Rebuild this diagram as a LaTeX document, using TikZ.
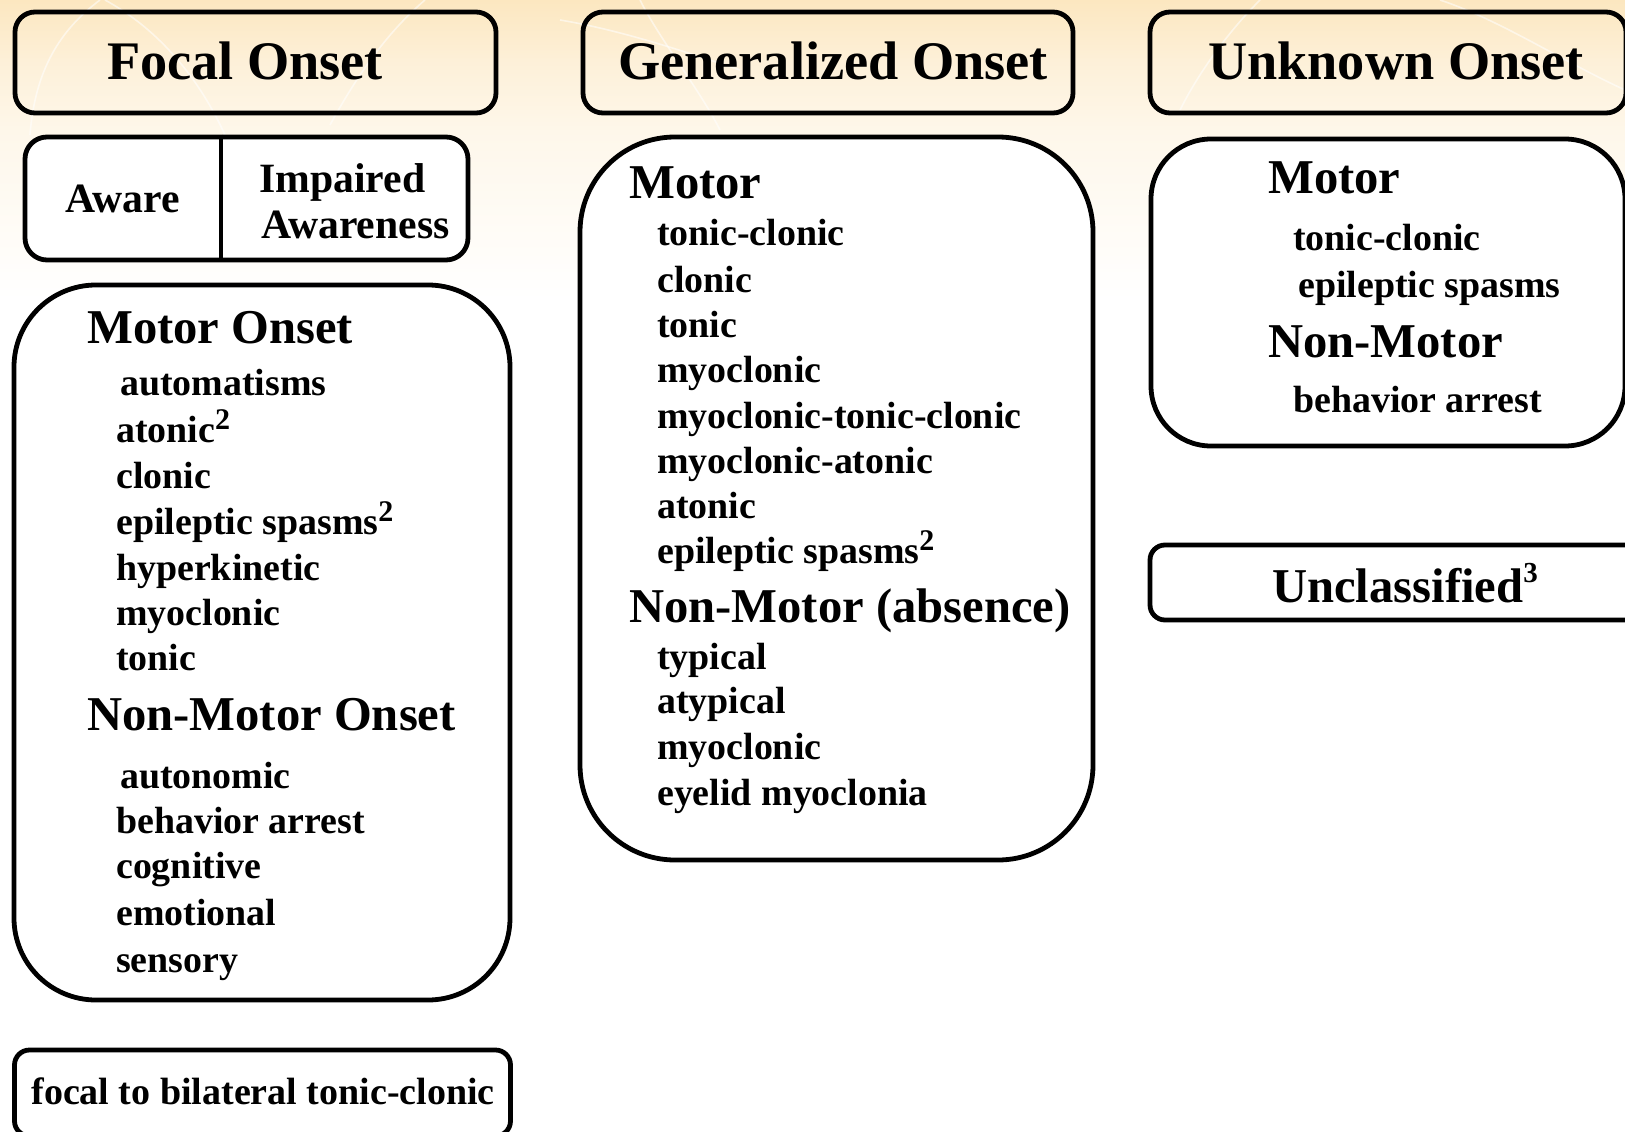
\documentclass[tikz,border=0pt]{standalone}
\usepackage{fontspec}
\setmainfont{Liberation Serif}
\newcommand\supmark[1]{\raisebox{13pt}{\fontsize{30}{30}\selectfont #1}}
\newcommand\supsmall[1]{\raisebox{20pt}{\fontsize{29}{29}\selectfont #1}}
\definecolor{peachA}{RGB}{252,231,192}
\definecolor{peachB}{RGB}{253,240,216}
\definecolor{peachC}{RGB}{254,247,234}
\begin{document}
\begin{tikzpicture}[x=1pt,y=-1pt,
  hdrbox/.style={draw=black, line width=4.8pt, rounded corners=20pt, inner sep=0pt, minimum height=101pt},
  listbox/.style={draw=black, fill=white, line width=4.8pt, inner sep=0pt},
  hd/.style={font=\fontsize{54.3}{60}\selectfont\bfseries, inner sep=0pt, anchor=base},
  sub/.style={font=\fontsize{48.6}{54}\selectfont\bfseries, inner sep=0pt, anchor=base west},
  item/.style={font=\fontsize{37.9}{42}\selectfont\bfseries, inner sep=0pt, anchor=base west},
  aw/.style={font=\fontsize{41.7}{46}\selectfont\bfseries, inner sep=0pt},
  arcline/.style={draw=white, line width=1.6pt, opacity=0.55}
]
\useasboundingbox (0,0) rectangle (1625,1132);
\clip (0,0) rectangle (1625,1132);
\fill[white] (0,0) rectangle (1625,1132);
\shade[top color=peachA, bottom color=peachB] (0,0) rectangle (1625,61);
\shade[top color=peachB, bottom color=peachC] (0,60) rectangle (1625,131);
\shade[top color=peachC, bottom color=white] (0,130) rectangle (1625,300);
% faint decorative arcs
\draw[arcline] (30,135) .. controls (35,70) and (60,30) .. (100,0);
\draw[arcline] (105,0) .. controls (160,30) and (200,80) .. (225,135);
\draw[arcline] (330,125) .. controls (360,70) and (390,30) .. (425,0);
\draw[arcline] (560,20) .. controls (620,30) and (680,50) .. (740,70);
\draw[arcline] (640,0) .. controls (660,40) and (700,90) .. (720,130);
\draw[arcline] (1180,110) .. controls (1200,70) and (1230,30) .. (1260,0);
\draw[arcline] (1440,0) .. controls (1500,20) and (1560,60) .. (1625,90);

% header boxes
\node[hdrbox, minimum width=481pt] (fh) at (255.5,62.5) {};
\node[hdrbox, minimum width=490pt] (gh) at (828,62.5) {};
\node[hdrbox, minimum width=476pt] (uh) at (1388,62.5) {};
\node[hd] (tfh) at (245,80) {Focal Onset};
\node[hd] (tgh) at (833,80) {Generalized Onset};
\node[hd] (tuh) at (1396,79) {Unknown Onset};

% aware / impaired awareness
\node[listbox, rounded corners=22pt, minimum width=443pt, minimum height=123pt] (awb) at (246.5,198.5) {};
\draw[line width=4.8pt] (awb.north -| 221,0) -- (awb.south -| 221,0);
\node[aw, anchor=base] (taw) at (122.5,212) {Aware};
\node[aw, anchor=base west] (timp) at (259,192) {Impaired};
\node[aw, anchor=base west] (tawn) at (261,238) {Awareness};

% focal list box
\node[listbox, rounded corners=82pt, minimum width=496pt, minimum height=715pt] (fb) at (262,642.5) {};
\node[sub] (f0) at (87,343) {Motor Onset};
\node[item] (f1) at (120,395) {automatisms};
\node[item] (f2) at (116,442) {atonic\supmark{2}};
\node[item] (f3) at (116,488) {clonic};
\node[item] (f4) at (116,534) {epileptic spasms\supmark{2}};
\node[item] (f5) at (116,580) {hyperkinetic};
\node[item] (f6) at (116,625) {myoclonic};
\node[item] (f7) at (116,670) {tonic};
\node[sub] (f8) at (87,730) {Non-Motor Onset};
\node[item] (f9) at (120,788) {autonomic};
\node[item] (f10) at (116,833) {behavior arrest};
\node[item] (f11) at (116,878) {cognitive};
\node[item] (f12) at (116,925) {emotional};
\node[item] (f13) at (116,972) {sensory};

% focal to bilateral
\node[listbox, rounded corners=15pt, minimum width=496pt, minimum height=86pt] (ftb) at (262.5,1093) {};
\node[font=\fontsize{38}{42}\selectfont\bfseries, inner sep=0pt, anchor=base] (tftb) at (263,1104) {focal to bilateral tonic-clonic};

% generalized list box
\node[listbox, rounded corners=95pt, minimum width=513pt, minimum height=723pt] (gb) at (836.5,498.5) {};
\node[sub] (g0) at (629,198) {Motor};
\node[item] (g1) at (657,245) {tonic-clonic};
\node[item] (g2) at (657,292) {clonic};
\node[item] (g3) at (657,337) {tonic};
\node[item] (g4) at (657,382) {myoclonic};
\node[item] (g5) at (657,428) {myoclonic-tonic-clonic};
\node[item] (g6) at (657,473) {myoclonic-atonic};
\node[item] (g7) at (657,518) {atonic};
\node[item] (g8) at (657,563) {epileptic spasms\supmark{2}};
\node[sub] (g9) at (629,622) {Non-Motor (absence)};
\node[item] (g10) at (657,669) {typical};
\node[item] (g11) at (657,713) {atypical};
\node[item] (g12) at (657,759) {myoclonic};
\node[item] (g13) at (657,805) {eyelid myoclonia};

% unknown list box
\node[listbox, rounded corners=60pt, minimum width=474pt, minimum height=307pt] (ub) at (1388,292.5) {};
\node[sub] (u0) at (1268,193) {Motor};
\node[item] (u1) at (1293,250) {tonic-clonic};
\node[item] (u2) at (1298,297) {epileptic spasms};
\node[sub] (u3) at (1268,357) {Non-Motor};
\node[item] (u4) at (1293,412) {behavior arrest};

% unclassified
\node[listbox, rounded corners=15pt, minimum width=510pt, minimum height=75pt] (ucb) at (1405,582.5) {};
\node[sub] (tuc) at (1272,602) {Unclassified\supsmall{3}};
\end{tikzpicture}
\end{document}
